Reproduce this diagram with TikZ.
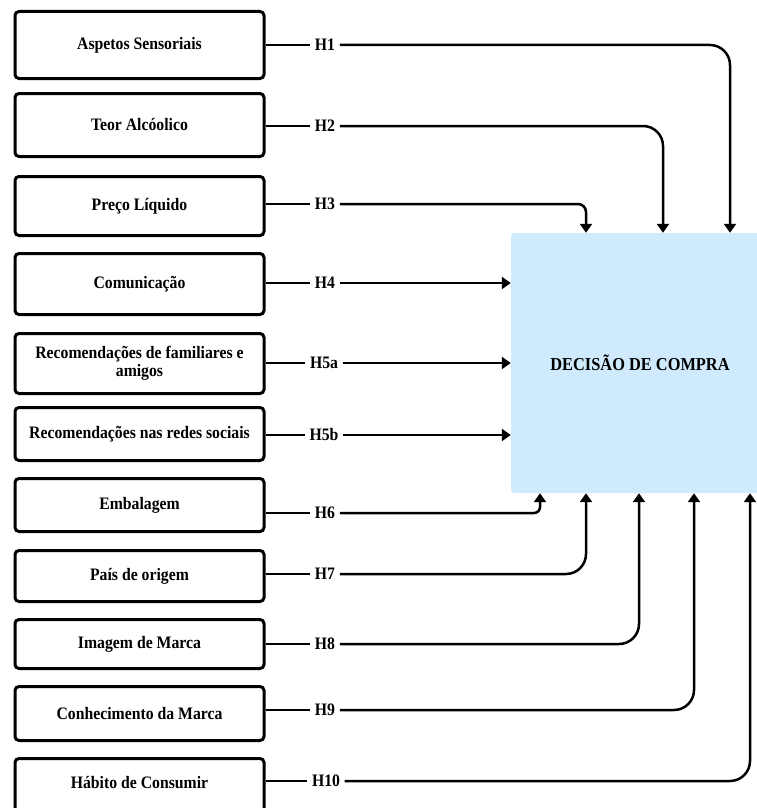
\documentclass[tikz,border=0pt]{standalone}
\usepackage{fontspec}
\setmainfont{Liberation Serif}[FakeStretch=0.9]
\usetikzlibrary{arrows.meta}
\definecolor{decblue}{RGB}{207,234,252}
\begin{document}
\begin{tikzpicture}[x=1pt,y=-1pt,
  box/.style={draw, line width=3pt, rounded corners=4pt, minimum width=249pt, inner sep=0pt, align=center, font=\fontsize{17.5}{18}\selectfont\bfseries},
  boxtext/.style={inner sep=0pt, align=center, font=\fontsize{17.5}{18}\selectfont\bfseries},
  hyp/.style={inner xsep=4.5pt, inner ysep=2pt, font=\fontsize{17.5}{18}\selectfont\bfseries},
  conn/.style={line width=2.5pt},
  arr/.style={line width=2.5pt, -{Triangle[width=12pt,length=9pt]}},
]
\useasboundingbox (0,0) rectangle (757,808);
\clip (0,0) rectangle (757,808);

\node[fill=decblue, rounded corners=3pt, minimum width=258pt, minimum height=260pt, inner sep=0pt,
      font=\fontsize{18.2}{19}\selectfont\bfseries] (dc) at (640,363) {DECISÃO DE COMPRA};

\node[box, minimum height=67pt] (b1) at (139.5,45) {Aspetos Sensoriais};
\node[box, minimum height=63pt] (b2) at (139.5,125) {Teor Alcóolico};
\node[box, minimum height=59pt] (b3) at (139.5,206) {Preço Líquido};
\node[box, minimum height=61pt] (b4) at (139.5,284) {Comunicação};
\node[box, minimum height=60pt] (b5) at (139.5,363.5) {Recomendações de familiares e\\amigos};
\node[box, minimum height=53pt] (b6) at (139.5,434) {Recomendações nas redes sociais};
\node[box, minimum height=53pt] (b7) at (139.5,505) {Embalagem};
\node[box, minimum height=51pt] (b8) at (139.5,576) {País de origem};
\node[box, minimum height=49pt] (b9) at (139.5,644) {Imagem de Marca};
\node[box, minimum height=54pt] (b10) at (139.5,713.5) {Conhecimento da Marca};
\node[box, minimum height=63pt] (b11) at (139.5,790) {};
\node[boxtext] (t11) at (139.5,783) {Hábito de Consumir};

\node[hyp] (h1) at (325,45) {H1};
\node[hyp] (h2) at (325,126) {H2};
\node[hyp] (h3) at (325,204) {H3};
\node[hyp] (h4) at (325,283) {H4};
\node[hyp] (h5a) at (324,363) {H5a};
\node[hyp] (h5b) at (324,435) {H5b};
\node[hyp] (h6) at (325,513) {H6};
\node[hyp] (h7) at (325,574) {H7};
\node[hyp] (h8) at (325,644) {H8};
\node[hyp] (h9) at (325,710) {H9};
\node[hyp] (h10) at (326,781) {H10};

\foreach \b/\h in {b1/h1,b2/h2,b3/h3,b4/h4,b5/h5a,b6/h5b,b7/h6,b8/h7,b9/h8,b10/h9,b11/h10}
  \draw[conn] (\b.east |- \h.west) -- (\h.west);

\draw[arr, rounded corners=20pt] (h1.east) -| (730,0 |- dc.north);
\draw[arr, rounded corners=20pt] (h2.east) -| (663,0 |- dc.north);
\draw[arr, rounded corners=8pt] (h3.east) -| (586,0 |- dc.north);
\draw[arr] (h4.east) -- (h4.east -| dc.west);
\draw[arr] (h5a.east) -- (h5a.east -| dc.west);
\draw[arr] (h5b.east) -- (h5b.east -| dc.west);
\draw[arr, rounded corners=6pt] (h6.east) -| (540,0 |- dc.south);
\draw[arr, rounded corners=20pt] (h7.east) -| (586,0 |- dc.south);
\draw[arr, rounded corners=20pt] (h8.east) -| (639,0 |- dc.south);
\draw[arr, rounded corners=20pt] (h9.east) -| (694,0 |- dc.south);
\draw[arr, rounded corners=20pt] (h10.east) -| (750,0 |- dc.south);
\end{tikzpicture}
\end{document}
